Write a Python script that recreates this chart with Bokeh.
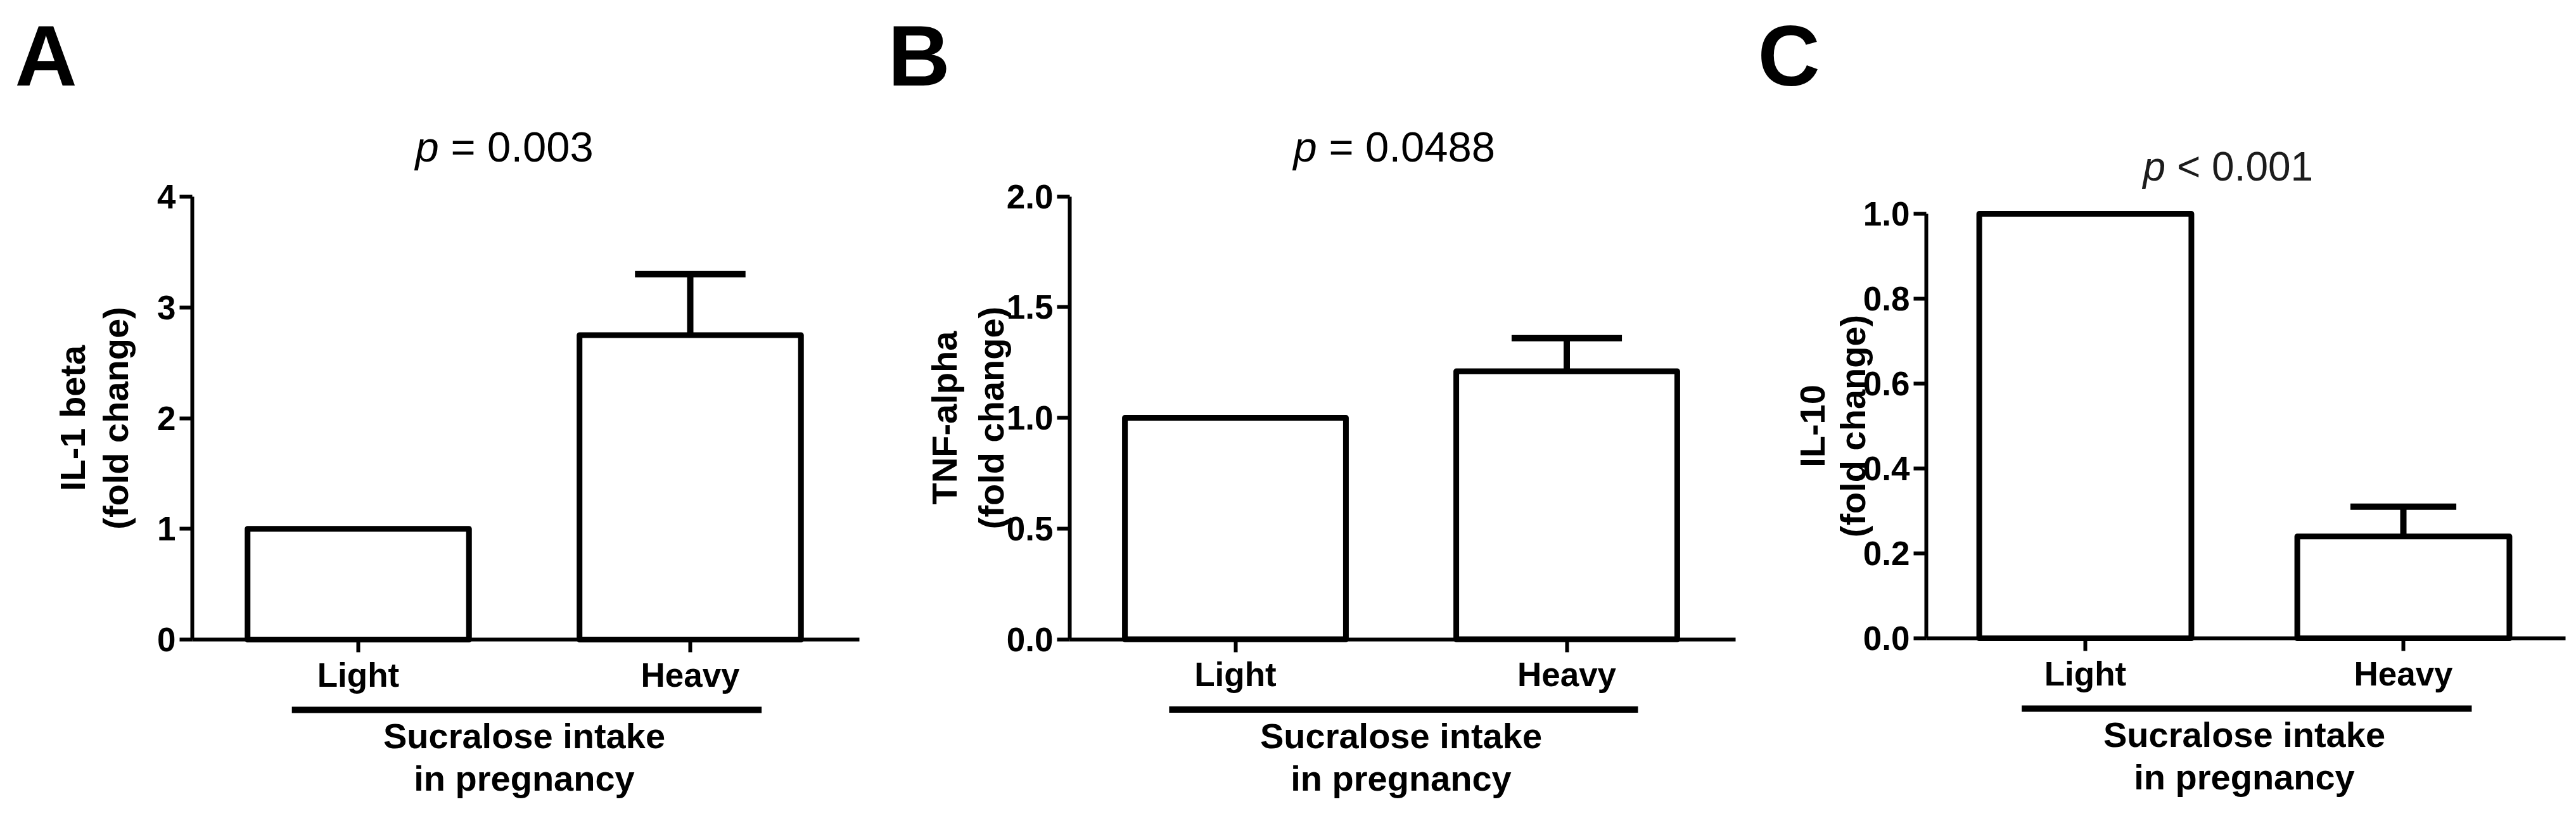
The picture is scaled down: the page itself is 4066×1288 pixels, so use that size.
import math
from bokeh.plotting import figure
from bokeh.models import Range1d, LinearAxis, FixedTicker, NumeralTickFormatter, ColumnDataSource
from bokeh.layouts import row
from bokeh.embed import file_html
from bokeh.resources import INLINE
from bokeh.core.properties import value

# ---------------- data ----------------
categories = ["Light", "Heavy"]

il1b_mean = [1.0, 2.75]
il1b_sem = [0.0, 0.55]

tnf_mean = [1.0, 1.21]
tnf_sem = [0.0, 0.15]

il10_mean = [1.0, 0.24]
il10_sem = [0.0, 0.07]

il1b_ticks = [0, 1, 2, 3, 4]
tnf_ticks = [0.0, 0.5, 1.0, 1.5, 2.0]
il10_ticks = [0.0, 0.2, 0.4, 0.6, 0.8, 1.0]

panel_letters = ["A", "B", "C"]
y_titles = ["IL-1 beta", "TNF-alpha", "IL-10"]
p_relations = ["= 0.003", "= 0.0488", "< 0.001"]
group_title = ["Sucralose intake", "in pregnancy"]

# ---------------- layout / style ----------------
TOP = 0          # page origin (Bokeh template has no body margin)
H = 1284
FONT = "Liberation Sans"
BAR_W = 0.667
CAP_W = 0.333
AXIS_END = 2.01
UNDERLINE = (0.30, 1.715)
MID = 0.35       # distance baseline -> text-box centre, in em
LETTER_BASE = 135

panels = [
    dict(L=0, W=1372, X0=303, ux=524, Y0=1009, uy=174.75, fmt="0",
         letter_x=23, p_left=655, p_base=254, p_size=67, p_color="black",
         t1=134, t2=202),
    dict(L=1372, W=1372, X0=1688, ux=523, Y0=1008.5, uy=349.5, fmt="0.0",
         letter_x=1401, p_left=2041, p_base=254, p_size=67, p_color="black",
         t1=1510, t2=1584),
    dict(L=2744, W=1318, X0=3040, ux=502, Y0=1007, uy=670, fmt="0.0",
         letter_x=2774, p_left=3382, p_base=285, p_size=64, p_color="#1c1c1c",
         t1=2880, t2=2944),
]


def make_panel(cfg, means, sems, ticks, title, letter, rel):
    L, W, X0, ux, Y0, uy = cfg["L"], cfg["W"], cfg["X0"], cfg["ux"], cfg["Y0"], cfg["uy"]

    def xd(px):
        return (px - X0) / ux

    def yd(py):
        return (Y0 - py) / uy

    def base_y(py, fs):
        # text is anchored at its box centre; convert a baseline to that centre
        return yd(py - MID * fs)

    def base_x_rot(px, fs):
        # rotated (reading upward) text: glyph tops point left
        return xd(px - MID * fs)

    p = figure(width=W, height=H,
               x_range=Range1d(xd(L), xd(L + W)),
               y_range=Range1d(yd(TOP + H), yd(TOP)),
               x_axis_type=None, y_axis_type=None,
               output_backend="svg", toolbar_location=None,
               min_border=0, outline_line_color=None,
               background_fill_color="white", border_fill_color="white")

    xs = [i + 0.5 for i in range(len(categories))]

    axis_style = dict(axis_line_width=6, axis_line_color="black",
                      major_tick_line_width=6, major_tick_line_color="black",
                      major_tick_out=20, major_tick_in=0,
                      minor_tick_out=0, minor_tick_in=0,
                      major_label_text_font=FONT,
                      major_label_text_font_size="53px",
                      major_label_text_font_style="bold",
                      major_label_text_color="black",
                      major_label_standoff=6)

    yaxis = LinearAxis(fixed_location=0, bounds=(0, ticks[-1]),
                       ticker=FixedTicker(ticks=ticks, minor_ticks=[]),
                       formatter=NumeralTickFormatter(format=cfg["fmt"]),
                       **axis_style)
    p.add_layout(yaxis, "left")

    xaxis = LinearAxis(fixed_location=0, bounds=(0, AXIS_END),
                       ticker=FixedTicker(ticks=xs, minor_ticks=[]),
                       major_label_overrides={x: c for x, c in zip(xs, categories)},
                       **axis_style)
    p.add_layout(xaxis, "below")

    src = ColumnDataSource(dict(x=xs, top=means))
    p.vbar(x="x", top="top", bottom=0, width=BAR_W, source=src,
           fill_color="white", line_color="black", line_width=9, line_join="round")

    ex = [x for x, s in zip(xs, sems) if s > 0]
    em = [m for m, s in zip(means, sems) if s > 0]
    eu = [m + s for m, s in zip(means, sems) if s > 0]
    p.segment(x0=ex, y0=em, x1=ex, y1=eu, line_color="black", line_width=10)
    p.segment(x0=[x - CAP_W / 2 for x in ex], y0=eu,
              x1=[x + CAP_W / 2 for x in ex], y1=eu,
              line_color="black", line_width=10)

    # underline of group label
    yu = yd(Y0 + 111)
    p.segment(x0=[UNDERLINE[0]], y0=[yu], x1=[UNDERLINE[1]], y1=[yu],
              line_color="black", line_width=10)

    # group title (two lines)
    mid = len(categories) / 2
    p.text(x=[mid, mid], y=[base_y(Y0 + 172, 56), base_y(Y0 + 239, 56)], text=group_title,
           text_font=value(FONT), text_font_style="bold",
           text_font_size=value("56px"), text_align="center",
           text_baseline="middle", text_color="black")

    # y-axis title (two rotated lines)
    ymid = yd((Y0 + (Y0 - ticks[-1] * uy)) / 2)
    p.text(x=[base_x_rot(cfg["t1"], 56), base_x_rot(cfg["t2"], 56)], y=[ymid, ymid],
           text=[title, "(fold change)"], angle=math.pi / 2,
           text_font=value(FONT), text_font_style="bold",
           text_font_size=value("56px"), text_align="center",
           text_baseline="middle", text_color="black")

    # panel letter
    p.text(x=[xd(cfg["letter_x"])], y=[base_y(LETTER_BASE, 136)], text=[letter],
           text_font=value(FONT), text_font_style="bold",
           text_font_size=value("136px"), text_align="left",
           text_baseline="middle", text_color="black")

    # p-value: italic p + relation
    ps = cfg["p_size"]
    py = base_y(cfg["p_base"], ps)
    p.text(x=[xd(cfg["p_left"])], y=[py], text=["p"],
           text_font=value(FONT), text_font_style="italic",
           text_font_size=value(f"{ps}px"), text_align="left",
           text_baseline="middle", text_color=cfg["p_color"])
    p.text(x=[xd(cfg["p_left"] + 0.834 * ps)], y=[py], text=[rel],
           text_font=value(FONT), text_font_style="normal",
           text_font_size=value(f"{ps}px"), text_align="left",
           text_baseline="middle", text_color=cfg["p_color"])
    return p


pa = make_panel(panels[0], il1b_mean, il1b_sem, il1b_ticks, y_titles[0], panel_letters[0], p_relations[0])
pb = make_panel(panels[1], tnf_mean, tnf_sem, tnf_ticks, y_titles[1], panel_letters[1], p_relations[1])
pc = make_panel(panels[2], il10_mean, il10_sem, il10_ticks, y_titles[2], panel_letters[2], p_relations[2])

layout = row(pa, pb, pc)
open("out.html", "w").write(file_html(layout, INLINE))
